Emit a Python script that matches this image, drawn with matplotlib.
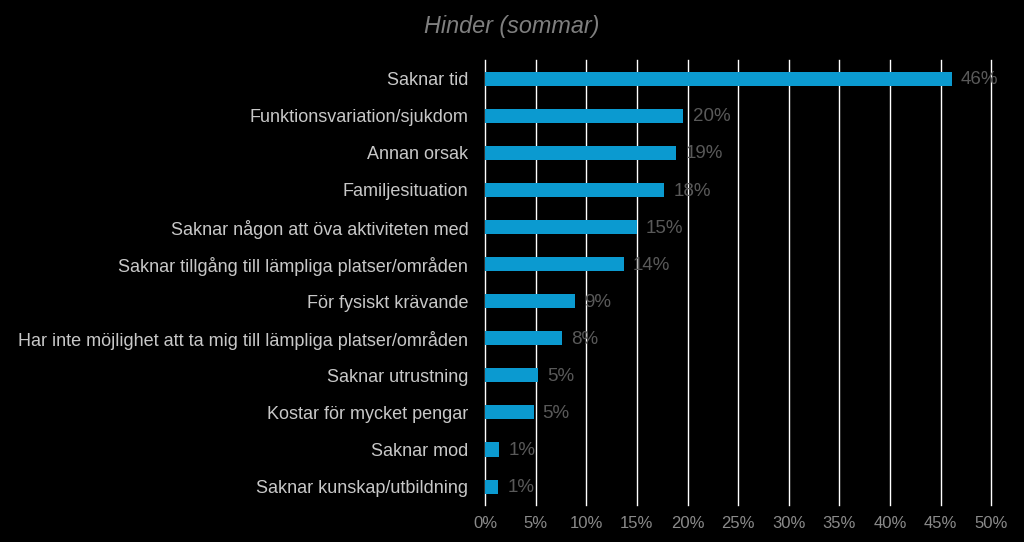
import numpy as np
import matplotlib.pyplot as plt
from matplotlib.ticker import FuncFormatter

plt.rcParams['font.family'] = ['Liberation Sans', 'DejaVu Sans']

categories = [
    "Saknar tid",
    "Funktionsvariation/sjukdom",
    "Annan orsak",
    "Familjesituation",
    "Saknar någon att öva aktiviteten med",
    "Saknar tillgång till lämpliga platser/områden",
    "För fysiskt krävande",
    "Har inte möjlighet att ta mig till lämpliga platser/områden",
    "Saknar utrustning",
    "Kostar för mycket pengar",
    "Saknar mod",
    "Saknar kunskap/utbildning",
]
values = [46.1, 19.6, 18.9, 17.7, 15.0, 13.7, 8.9, 7.6, 5.2, 4.8, 1.4, 1.3]
labels = ["46%", "20%", "19%", "18%", "15%", "14%", "9%", "8%", "5%", "5%", "1%", "1%"]
xticks = np.arange(0, 51, 5)

bg = "black"
bar_color = "#0b9ad0"

fig = plt.figure(figsize=(10.24, 5.42), dpi=100)
fig.set_facecolor(bg)
ax = fig.add_axes([0.4736, 0.068, 0.4945, 0.821])
ax.set_facecolor(bg)

y = np.arange(len(categories))
ax.barh(y, values, height=0.38, color=bar_color, zorder=3)
for yi, v, lab in zip(y, values, labels):
    ax.text(v + 0.9, yi + 0.03, lab, va="center", ha="left", fontsize=13.5, color="#595959", zorder=4)

ax.set_ylim(len(categories) - 0.5, -0.5)
ax.set_xlim(0, 50)
ax.set_xticks(xticks)
ax.xaxis.set_major_formatter(FuncFormatter(lambda v, p: f"{v:.0f}%"))
ax.set_yticks(y)
ax.set_yticklabels(categories, fontsize=13.0, color="#c8c8c8")
ax.tick_params(axis="x", colors="#8a8a8a", labelsize=12, length=0, pad=8)
ax.tick_params(axis="y", length=0, pad=12)
ax.grid(axis="x", color="white", lw=1.0, zorder=1)
for line in ax.get_xgridlines():
    line.set_clip_on(False)
for s in ax.spines.values():
    s.set_visible(False)

fig.text(0.5, 0.952, "Hinder (sommar)", ha="center", va="center", fontsize=16.8,
         style="italic", color="#7f7f7f")

fig.savefig("out.png", dpi=100, facecolor=bg)
